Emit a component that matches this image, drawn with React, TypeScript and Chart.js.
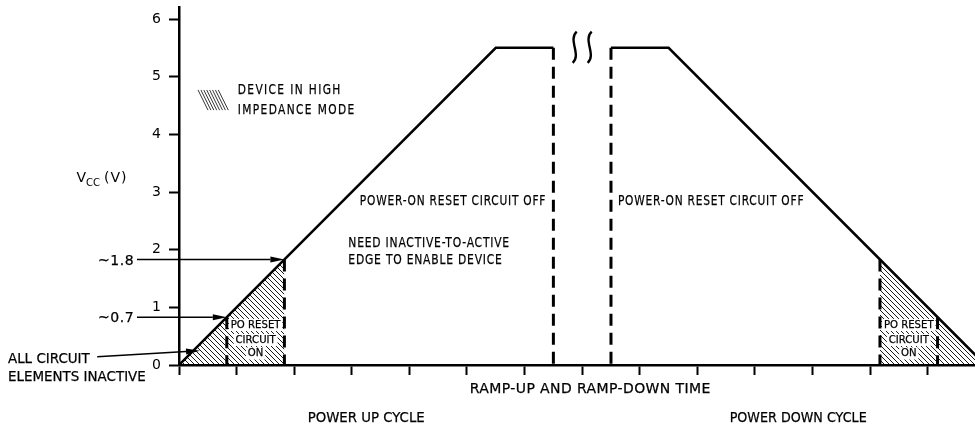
import React, { useEffect, useRef } from 'react';
import { Chart, registerables } from 'chart.js';

Chart.register(...registerables);

// ---- data ----
const RAMP_UP_X = [0, 5.5, 6.5];
const RAMP_UP_Y = [0, 5.5, 5.5];
const RAMP_DOWN_X = [7.5, 8.5, 14];
const RAMP_DOWN_Y = [5.5, 5.5, 0];
const POR_LOW = 0.83; // "~0.7"
const POR_HIGH = 1.83; // "~1.8"
const HATCH_UP_X = [0, 1.83];
const HATCH_UP_Y = [0, 1.83];
const HATCH_DOWN_X = [12.17, 14];
const HATCH_DOWN_Y = [1.83, 0];
const DASH_X = [0.83, 1.83, 6.5, 7.5, 12.17, 13.17];
const DASH_TOP = [0.83, 1.83, 5.5, 5.5, 1.83, 0.83];
const Y_TICKS = [0, 1, 2, 3, 4, 5, 6];
const X_TICKS = [0, 1, 2, 3, 4, 5, 6, 7, 8, 9, 10, 11, 12, 13];
const X_MAX = 13.82;
const Y_MAX = 6.2;

const LEGEND_TEXT = ['DEVICE IN HIGH', 'IMPEDANCE MODE'];
const NOTE_OFF = 'POWER-ON RESET CIRCUIT OFF';
const NOTE_NEED = ['NEED INACTIVE-TO-ACTIVE', 'EDGE TO ENABLE DEVICE'];
const PO_RESET = ['PO RESET', 'CIRCUIT', 'ON'];
const X_TITLE = 'RAMP-UP AND RAMP-DOWN TIME';
const CYCLE_LABELS = ['POWER UP CYCLE', 'POWER DOWN CYCLE'];
const LEVEL_LABELS = ['~1.8', '~0.7'];
const INACTIVE_LABEL = ['ALL CIRCUIT', 'ELEMENTS INACTIVE'];

const FONT = '"DejaVu Sans", "Liberation Sans", sans-serif';

type TOpt = { size?: number; sx?: number; ls?: number; align?: CanvasTextAlign; bg?: boolean };

function txt(ctx: CanvasRenderingContext2D, s: string, px: number, py: number, o: TOpt = {}) {
  const size = o.size ?? 14;
  const sx = o.sx ?? 1;
  ctx.save();
  ctx.font = `${size}px ${FONT}`;
  (ctx as any).letterSpacing = `${o.ls ?? 0}px`;
  ctx.textAlign = o.align ?? 'left';
  ctx.textBaseline = 'middle';
  ctx.translate(px, py);
  ctx.scale(sx, 1);
  if (o.bg) {
    const w = ctx.measureText(s).width;
    let x0 = 0;
    if (ctx.textAlign === 'center') x0 = -w / 2;
    else if (ctx.textAlign === 'right') x0 = -w;
    ctx.fillStyle = '#fff';
    ctx.fillRect(x0 - 2, -size * 0.55, w + 4, size * 1.1);
  }
  ctx.fillStyle = '#000';
  ctx.strokeStyle = '#000';
  ctx.lineWidth = 0.25;
  ctx.fillText(s, 0, 0);
  ctx.strokeText(s, 0, 0);
  ctx.restore();
}

function arrow(ctx: CanvasRenderingContext2D, x1: number, y1: number, x2: number, y2: number) {
  const a = Math.atan2(y2 - y1, x2 - x1);
  const L = 14;
  const W = 3;
  const bx = x2 - L * Math.cos(a);
  const by = y2 - L * Math.sin(a);
  ctx.save();
  ctx.strokeStyle = '#000';
  ctx.fillStyle = '#000';
  ctx.lineWidth = 1.5;
  ctx.beginPath();
  ctx.moveTo(x1, y1);
  ctx.lineTo(bx, by);
  ctx.stroke();
  ctx.beginPath();
  ctx.moveTo(x2, y2);
  ctx.lineTo(bx + W * Math.sin(a), by - W * Math.cos(a));
  ctx.lineTo(bx - W * Math.sin(a), by + W * Math.cos(a));
  ctx.closePath();
  ctx.fill();
  ctx.restore();
}

const annotate = {
  id: 'annotate',
  afterDraw(chart: any) {
    const ctx: CanvasRenderingContext2D = chart.ctx;
    const xs = chart.scales.x;
    const ys = chart.scales.y;
    const X = (v: number) => xs.getPixelForValue(v);
    const Y = (v: number) => ys.getPixelForValue(v);

    // legend swatch
    ctx.save();
    ctx.strokeStyle = '#000';
    ctx.lineWidth = 0.8;
    const lx = X(0.33);
    const ly0 = Y(4.77);
    const ly1 = Y(4.42);
    for (let i = 0; i < 8; i++) {
      ctx.beginPath();
      ctx.moveTo(lx + 2.9 * i, ly0);
      ctx.lineTo(lx + 2.9 * i + 10, ly1);
      ctx.stroke();
    }
    ctx.restore();
    txt(ctx, LEGEND_TEXT[0], X(1.02), Y(4.76), { sx: 0.76, ls: 1.8 });
    txt(ctx, LEGEND_TEXT[1], X(1.02), Y(4.42), { sx: 0.76, ls: 1.8 });

    // region notes
    txt(ctx, NOTE_OFF, X(3.14), Y(2.84), { sx: 0.76, ls: 1.0 });
    txt(ctx, NOTE_OFF, X(7.62), Y(2.84), { sx: 0.76, ls: 1.0 });
    txt(ctx, NOTE_NEED[0], X(2.94), Y(2.115), { sx: 0.77, ls: 1.0 });
    txt(ctx, NOTE_NEED[1], X(2.94), Y(1.81), { sx: 0.77, ls: 1.0 });

    // PO reset boxes
    const mids = [(POR_LOW + POR_HIGH) / 2, (HATCH_DOWN_X[0] + DASH_X[5]) / 2];
    const rows = [0.694, 0.434, 0.2];
    mids.forEach((m) => {
      PO_RESET.forEach((s, i) => {
        txt(ctx, s, X(m), Y(rows[i]), { size: 11, sx: 0.92, align: 'center', bg: true });
      });
    });

    // axis-side labels
    txt(ctx, X_TITLE, X(7.14), Y(-0.425), { align: 'center', ls: 0.4 });
    txt(ctx, CYCLE_LABELS[0], X(3.25), Y(-0.917), { align: 'center', sx: 0.95 });
    txt(ctx, CYCLE_LABELS[1], X(10.75), Y(-0.917), { align: 'center', sx: 0.91 });

    // level arrows
    txt(ctx, LEVEL_LABELS[0], X(-0.78), Y(1.795), { align: 'right', ls: 0.5 });
    txt(ctx, LEVEL_LABELS[1], X(-0.78), Y(0.815), { align: 'right', ls: 0.5 });
    arrow(ctx, X(-0.73), Y(POR_HIGH), X(POR_HIGH), Y(POR_HIGH));
    arrow(ctx, X(-0.73), Y(POR_LOW), X(POR_LOW), Y(POR_LOW));

    txt(ctx, INACTIVE_LABEL[0], X(-2.97), Y(0.104), { sx: 0.96 });
    txt(ctx, INACTIVE_LABEL[1], X(-2.97), Y(-0.217), { sx: 0.96 });
    arrow(ctx, X(-1.42), Y(0.144), X(0.365), Y(0.248));

    // y axis title V_CC (V)
    ctx.save();
    ctx.fillStyle = '#000';
    ctx.textBaseline = 'middle';
    ctx.textAlign = 'left';
    let vx = X(-1.78);
    const vy = Y(3.24);
    ctx.font = `14px ${FONT}`;
    ctx.fillText('V', vx, vy);
    vx += ctx.measureText('V').width;
    ctx.font = `10px ${FONT}`;
    ctx.fillText('CC', vx, vy + 5);
    vx += ctx.measureText('CC').width + 4;
    ctx.font = `14px ${FONT}`;
    (ctx as any).letterSpacing = '1px';
    ctx.fillText('(V)', vx, vy);
    ctx.restore();

    // break symbol
    ctx.save();
    ctx.strokeStyle = '#000';
    ctx.lineWidth = 2.4;
    const top = Y(5.78);
    const bot = Y(5.24);
    [6.87, 7.13].forEach((c) => {
      const cx = X(c);
      ctx.beginPath();
      ctx.moveTo(cx + 2, top);
      ctx.bezierCurveTo(cx - 7, top + 8, cx + 7, bot - 8, cx - 2, bot);
      ctx.stroke();
    });
    ctx.restore();
  },
};

function makeHatch(): CanvasPattern | string {
  const s = 5;
  const pc = document.createElement('canvas');
  pc.width = s;
  pc.height = s;
  const g = pc.getContext('2d');
  if (!g) return '#999';
  g.strokeStyle = '#000';
  g.lineWidth = 0.9;
  g.beginPath();
  g.moveTo(-1, -1);
  g.lineTo(s + 1, s + 1);
  g.moveTo(-1, s - 1);
  g.lineTo(1, s + 1);
  g.moveTo(s - 1, -1);
  g.lineTo(s + 1, 1);
  g.stroke();
  const p = g.createPattern(pc, 'repeat');
  return p ?? '#999';
}

const pts = (xs: number[], ys: number[]) => xs.map((x, i) => ({ x, y: ys[i] }));

export default function App() {
  const ref = useRef<HTMLCanvasElement>(null);

  useEffect(() => {
    if (!ref.current) return;
    const hatch = makeHatch();
    const common = { pointRadius: 0, showLine: true, fill: false, borderColor: '#000' };
    const chart = new Chart(ref.current, {
      type: 'scatter',
      data: {
        datasets: [
          { ...common, data: pts(RAMP_UP_X, RAMP_UP_Y), borderWidth: 2.5, borderJoinStyle: 'miter', order: 0 },
          { ...common, data: pts(RAMP_DOWN_X, RAMP_DOWN_Y), borderWidth: 2.5, borderJoinStyle: 'miter', order: 0 },
          ...DASH_X.map((x, i) => ({
            ...common,
            data: [{ x, y: DASH_TOP[i] }, { x, y: 0 }],
            borderWidth: 3,
            borderDash: [12, 7],
            borderCapStyle: 'butt',
            order: 1,
          })),
          { ...common, data: pts(HATCH_UP_X, HATCH_UP_Y), borderWidth: 0, fill: 'origin', backgroundColor: hatch, order: 2 },
          { ...common, data: pts(HATCH_DOWN_X, HATCH_DOWN_Y), borderWidth: 0, fill: 'origin', backgroundColor: hatch, order: 2 },
        ] as any,
      },
      options: {
        animation: false,
        responsive: true,
        maintainAspectRatio: false,
        events: [],
        layout: { padding: { top: 7.5, left: 0, right: 0, bottom: 0 } },
        plugins: { legend: { display: false }, tooltip: { enabled: false } },
        scales: {
          x: {
            type: 'linear',
            min: 0,
            max: X_MAX,
            afterBuildTicks: (s: any) => {
              s.ticks = X_TICKS.map((v) => ({ value: v }));
            },
            afterFit: (s: any) => {
              s.height = 61;
              s.paddingLeft = 0;
              s.paddingRight = 0;
            },
            ticks: { display: false },
            grid: { drawOnChartArea: false, drawTicks: true, tickLength: 10, tickColor: '#000', tickWidth: 2 },
            border: { display: true, color: '#000', width: 2.5 },
          },
          y: {
            type: 'linear',
            min: 0,
            max: Y_MAX,
            afterBuildTicks: (s: any) => {
              s.ticks = Y_TICKS.map((v) => ({ value: v }));
            },
            afterFit: (s: any) => {
              s.width = 179;
              s.paddingTop = 0;
              s.paddingBottom = 0;
            },
            ticks: {
              color: '#000',
              padding: 8,
              font: { family: FONT, size: 14 },
              callback: (v: any) => String(v),
            },
            grid: { drawOnChartArea: false, drawTicks: true, tickLength: 10, tickColor: '#000', tickWidth: 2 },
            border: { display: true, color: '#000', width: 2.5 },
          },
        },
      },
      plugins: [annotate],
    });
    return () => chart.destroy();
  }, []);

  return (
    <div style={{ position: 'absolute', left: 0, top: 0, width: 975, height: 426, background: '#fff' }}>
      <canvas ref={ref} />
    </div>
  );
}
